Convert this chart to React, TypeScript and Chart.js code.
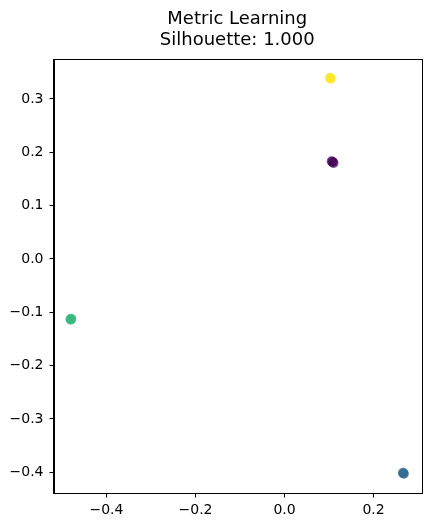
import React, { useEffect, useRef } from "react";
import { Chart, registerables } from "chart.js";

Chart.register(...registerables);

const titleLines = ["Metric Learning", "Silhouette: 1.000"];

const clusterNames = ["0", "1", "2", "3"];
const clusterColors = [
  "rgba(68,1,84,0.7)",
  "rgba(49,104,142,0.7)",
  "rgba(53,183,121,0.7)",
  "rgba(253,231,37,0.7)",
];

const cluster0X = [0.108, 0.110, 0.106];
const cluster0Y = [0.182, 0.180, 0.183];
const cluster1X = [0.267, 0.268, 0.266];
const cluster1Y = [-0.402, -0.403, -0.401];
const cluster2X = [-0.481, -0.479, -0.480];
const cluster2Y = [-0.113, -0.112, -0.114];
const cluster3X = [0.103, 0.102, 0.104];
const cluster3Y = [0.339, 0.340, 0.338];

const xTicks = [-0.4, -0.2, 0.0, 0.2];
const yTicks = [-0.4, -0.3, -0.2, -0.1, 0.0, 0.1, 0.2, 0.3];
const xRange = [-0.519, 0.3065];
const yRange = [-0.44, 0.375];

const fmt = (v: number) => {
  const s = Number(v).toFixed(1);
  return s.replace("-", "\u2212");
};

export default function App() {
  const ref = useRef<HTMLCanvasElement>(null);
  useEffect(() => {
    document.body.style.margin = "0";
    const xsAll = [cluster0X, cluster1X, cluster2X, cluster3X];
    const ysAll = [cluster0Y, cluster1Y, cluster2Y, cluster3Y];
    const datasets = clusterNames.map((name, i) => ({
      label: name,
      data: xsAll[i].map((x, j) => ({ x, y: ysAll[i][j] })),
      backgroundColor: clusterColors[i],
      borderWidth: 0,
      pointRadius: 5,
    }));
    const boxPlugin = {
      id: "box",
      afterDraw(chart: any) {
        const { ctx, chartArea } = chart;
        ctx.save();
        ctx.strokeStyle = "#000";
        ctx.lineWidth = 1;
        ctx.strokeRect(
          Math.round(chartArea.left) + 0.5,
          Math.round(chartArea.top) + 0.5,
          Math.round(chartArea.right - chartArea.left),
          Math.round(chartArea.bottom - chartArea.top)
        );
        ctx.restore();
      },
    };
    const font = { family: "'DejaVu Sans', sans-serif", size: 14 };
    const chart = new Chart(ref.current!, {
      type: "scatter",
      data: { datasets },
      plugins: [boxPlugin],
      options: {
        animation: false,
        responsive: false,
        layout: { padding: { left: 0, right: 17, top: 0, bottom: 0 } },
        plugins: {
          legend: { display: false },
          tooltip: { enabled: false },
          title: {
            display: true,
            fullSize: false,
            text: titleLines,
            color: "#000",
            font: { family: "'DejaVu Sans', sans-serif", size: 18, weight: "normal", lineHeight: 1.167 },
            padding: { top: 8.5, bottom: 8.5 },
          },
        },
        scales: {
          x: {
            type: "linear",
            min: xRange[0],
            max: xRange[1],
            afterBuildTicks: (axis: any) => {
              axis.ticks = xTicks.map((v) => ({ value: v }));
            },
            afterFit: (axis: any) => {
              axis.height = 38.5;
            },
            ticks: {
              callback: (v: any) => fmt(v),
              color: "#000",
              font,
              padding: 4,
              maxRotation: 0,
              autoSkip: false,
            },
            grid: { drawOnChartArea: false, drawTicks: true, tickLength: 4, color: "#000" },
            border: { display: true, color: "#000" },
          },
          y: {
            type: "linear",
            min: yRange[0],
            max: yRange[1],
            afterBuildTicks: (axis: any) => {
              axis.ticks = yTicks.map((v) => ({ value: v }));
            },
            afterFit: (axis: any) => {
              axis.width = 53.5;
            },
            ticks: {
              callback: (v: any) => fmt(v),
              color: "#000",
              font,
              padding: 6,
              autoSkip: false,
            },
            grid: { drawOnChartArea: false, drawTicks: true, tickLength: 4, color: "#000" },
            border: { display: true, color: "#000" },
          },
        },
      },
    } as any);
    return () => chart.destroy();
  }, []);
  return (
    <div style={{ position: "absolute", left: 0, top: 0, width: 438, height: 532, background: "#fff" }}>
      <canvas ref={ref} width={438} height={532} style={{ display: "block" }} />
    </div>
  );
}
